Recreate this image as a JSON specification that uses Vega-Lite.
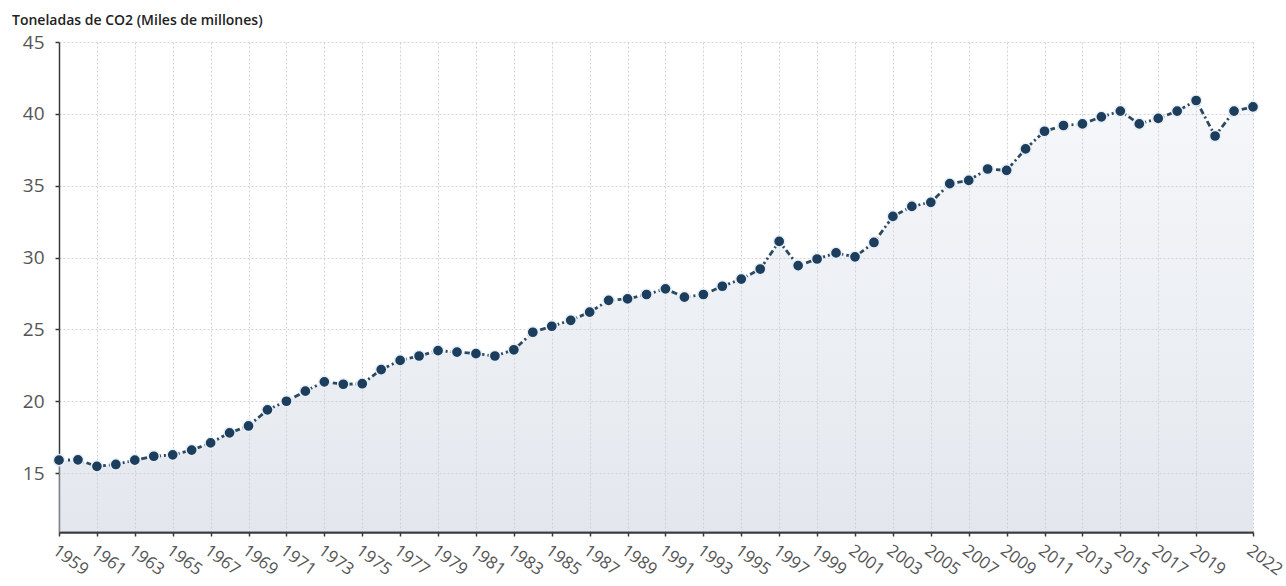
{
  "$schema": "https://vega.github.io/schema/vega-lite/v6.json",
  "autosize": {"type": "none"},
  "width": 1194,
  "height": 490,
  "padding": {"left": 59, "top": 42, "right": 33, "bottom": 54},
  "background": "white",
  "title": {
    "text": "Toneladas de CO2 (Miles de millones)",
    "anchor": "start",
    "frame": "group",
    "dx": -47,
    "offset": 5,
    "font": "Open Sans",
    "fontSize": 14,
    "fontWeight": 600,
    "color": "#222222"
  },
  "config": {
    "view": {"stroke": null},
    "font": "Open Sans"
  },
  "data": {
    "values": [
      {"year": 1959, "value": 15.9},
      {"year": 1960, "value": 15.92},
      {"year": 1961, "value": 15.47},
      {"year": 1962, "value": 15.6},
      {"year": 1963, "value": 15.9},
      {"year": 1964, "value": 16.17},
      {"year": 1965, "value": 16.27},
      {"year": 1966, "value": 16.6},
      {"year": 1967, "value": 17.1},
      {"year": 1968, "value": 17.8},
      {"year": 1969, "value": 18.28},
      {"year": 1970, "value": 19.4},
      {"year": 1971, "value": 20.0},
      {"year": 1972, "value": 20.7},
      {"year": 1973, "value": 21.35},
      {"year": 1974, "value": 21.18},
      {"year": 1975, "value": 21.22},
      {"year": 1976, "value": 22.2},
      {"year": 1977, "value": 22.84},
      {"year": 1978, "value": 23.15},
      {"year": 1979, "value": 23.52},
      {"year": 1980, "value": 23.42},
      {"year": 1981, "value": 23.31},
      {"year": 1982, "value": 23.15},
      {"year": 1983, "value": 23.58},
      {"year": 1984, "value": 24.8},
      {"year": 1985, "value": 25.22},
      {"year": 1986, "value": 25.63},
      {"year": 1987, "value": 26.2},
      {"year": 1988, "value": 27.02},
      {"year": 1989, "value": 27.12},
      {"year": 1990, "value": 27.43},
      {"year": 1991, "value": 27.82},
      {"year": 1992, "value": 27.24},
      {"year": 1993, "value": 27.43},
      {"year": 1994, "value": 28.0},
      {"year": 1995, "value": 28.5},
      {"year": 1996, "value": 29.2},
      {"year": 1997, "value": 31.12},
      {"year": 1998, "value": 29.44},
      {"year": 1999, "value": 29.9},
      {"year": 2000, "value": 30.32},
      {"year": 2001, "value": 30.05},
      {"year": 2002, "value": 31.05},
      {"year": 2003, "value": 32.86},
      {"year": 2004, "value": 33.56},
      {"year": 2005, "value": 33.84},
      {"year": 2006, "value": 35.14},
      {"year": 2007, "value": 35.37},
      {"year": 2008, "value": 36.16},
      {"year": 2009, "value": 36.07},
      {"year": 2010, "value": 37.56},
      {"year": 2011, "value": 38.79},
      {"year": 2012, "value": 39.19},
      {"year": 2013, "value": 39.3},
      {"year": 2014, "value": 39.79},
      {"year": 2015, "value": 40.19},
      {"year": 2016, "value": 39.3},
      {"year": 2017, "value": 39.68},
      {"year": 2018, "value": 40.19},
      {"year": 2019, "value": 40.93},
      {"year": 2020, "value": 38.46},
      {"year": 2021, "value": 40.19},
      {"year": 2022, "value": 40.49}
    ]
  },
  "encoding": {
    "x": {
      "field": "year",
      "type": "quantitative",
      "scale": {"domain": [1959, 2022], "nice": false, "zero": false},
      "axis": {
        "title": null,
        "values": [1959, 1961, 1963, 1965, 1967, 1969, 1971, 1973, 1975, 1977, 1979, 1981, 1983, 1985, 1987, 1989, 1991, 1993, 1995, 1997, 1999, 2001, 2003, 2005, 2007, 2009, 2011, 2013, 2015, 2017, 2019, 2022],
        "format": "d",
        "labelAngle": 36,
        "labelAlign": "left",
        "labelBaseline": "top",
        "labelPadding": 6,
        "labelOffset": 0,
        "labelFontSize": 17,
        "labelColor": "#555555",
        "labelFont": "Open Sans",
        "labelOverlap": false,
        "labelBound": false,
        "labelFlush": false,
        "domainColor": "#3a3a3a",
        "domainWidth": 2.5,
        "tickColor": "#3a3a3a",
        "tickSize": 4,
        "tickWidth": 1.5,
        "grid": true,
        "gridColor": "#d2d2d2",
        "gridDash": [2, 2],
        "gridWidth": 1
      }
    },
    "y": {
      "field": "value",
      "type": "quantitative",
      "scale": {"domain": [10.9, 45], "nice": false, "zero": false},
      "axis": {
        "title": null,
        "values": [15, 20, 25, 30, 35, 40, 45],
        "labelFontSize": 19,
        "labelColor": "#555555",
        "labelFont": "Open Sans",
        "labelPadding": 11,
        "domainColor": "#3a3a3a",
        "domainWidth": 1.5,
        "tickColor": "#3a3a3a",
        "tickSize": 4,
        "tickWidth": 1.5,
        "grid": true,
        "gridColor": "#d2d2d2",
        "gridDash": [2, 2],
        "gridWidth": 1
      }
    }
  },
  "layer": [
    {
      "mark": {
        "type": "area",
        "line": false,
        "color": {
          "gradient": "linear",
          "x1": 0, "y1": 0, "x2": 0, "y2": 1,
          "stops": [
            {"offset": 0, "color": "rgba(205,214,226,0.2)"},
            {"offset": 1, "color": "rgba(200,208,220,0.5)"}
          ]
        }
      },
      "encoding": {"y2": {"datum": 10.9}}
    },
    {
      "mark": {
        "type": "line",
        "color": "#2d4a63",
        "strokeWidth": 2.8,
        "strokeDash": [6, 3, 2, 3]
      }
    },
    {
      "mark": {
        "type": "point",
        "filled": true,
        "size": 125,
        "color": "#1c3d5c",
        "opacity": 1,
        "stroke": "#e6eef6",
        "strokeWidth": 1.5
      }
    }
  ]
}
